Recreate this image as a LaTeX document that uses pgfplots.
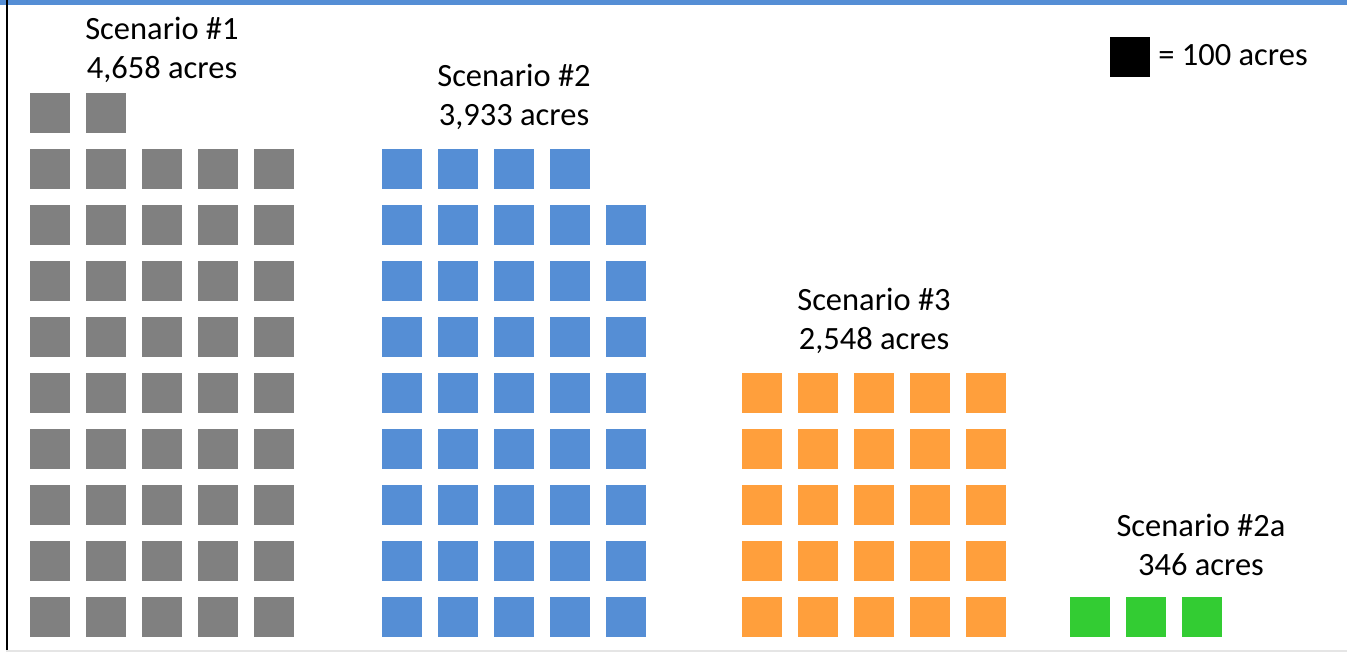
\documentclass[border=0pt]{standalone}
\usepackage{pgfplots}
\pgfplotsset{compat=1.18}
\usepackage{fontspec}
\setmainfont{Carlito}

\definecolor{scgray}{HTML}{808080}
\definecolor{scblue}{HTML}{558ED5}
\definecolor{scorange}{HTML}{FF9F3C}
\definecolor{scgreen}{HTML}{33CC33}
\definecolor{frameblue}{HTML}{558ED5}

\begin{document}
\begin{tikzpicture}
\begin{axis}[
    width=673.5bp, height=326bp,
    scale only axis,
    xmin=0, xmax=1347,
    ymin=0, ymax=652,
    y dir=reverse,
    hide axis,
    clip=false,
    tile/.style={only marks, mark=square*, mark size=9.8bp, color=#1, mark options={solid, line width=0.4pt}},
]
% one square = 100 acres, centres in pixel units
% Scenario #1
\addplot[tile=scgray] coordinates {
    (50,113) (106,113)
    (50,169) (106,169) (162,169) (218,169) (274,169)
    (50,225) (106,225) (162,225) (218,225) (274,225)
    (50,281) (106,281) (162,281) (218,281) (274,281)
    (50,337) (106,337) (162,337) (218,337) (274,337)
    (50,393) (106,393) (162,393) (218,393) (274,393)
    (50,449) (106,449) (162,449) (218,449) (274,449)
    (50,505) (106,505) (162,505) (218,505) (274,505)
    (50,561) (106,561) (162,561) (218,561) (274,561)
    (50,617) (106,617) (162,617) (218,617) (274,617)
};
% Scenario #2
\addplot[tile=scblue] coordinates {
    (402,169) (458,169) (514,169) (570,169)
    (402,225) (458,225) (514,225) (570,225) (626,225)
    (402,281) (458,281) (514,281) (570,281) (626,281)
    (402,337) (458,337) (514,337) (570,337) (626,337)
    (402,393) (458,393) (514,393) (570,393) (626,393)
    (402,449) (458,449) (514,449) (570,449) (626,449)
    (402,505) (458,505) (514,505) (570,505) (626,505)
    (402,561) (458,561) (514,561) (570,561) (626,561)
    (402,617) (458,617) (514,617) (570,617) (626,617)
};
% Scenario #3
\addplot[tile=scorange] coordinates {
    (762,393) (818,393) (874,393) (930,393) (986,393)
    (762,449) (818,449) (874,449) (930,449) (986,449)
    (762,505) (818,505) (874,505) (930,505) (986,505)
    (762,561) (818,561) (874,561) (930,561) (986,561)
    (762,617) (818,617) (874,617) (930,617) (986,617)
};
% Scenario #2a
\addplot[tile=scgreen] coordinates {
    (1090,617) (1146,617) (1202,617)
};
% key
\addplot[tile=black] coordinates {(1130,57)};

\begin{scope}[every node/.style={align=center, font=\fontsize{16.3}{19.5}\selectfont, inner sep=0pt}]
\node at (axis cs:162,50) {Scenario \#1\\4,658 acres};
\node at (axis cs:514,97) {Scenario \#2\\3,933 acres};
\node at (axis cs:874,321) {Scenario \#3\\2,548 acres};
\node at (axis cs:1201,545) {Scenario \#2a\\346 acres};
\node[anchor=west] at (axis cs:1158,55) {= 100 acres};
\end{scope}

% frame
\fill[frameblue] (axis cs:0,0) rectangle (axis cs:1347,5);
\fill[black] (axis cs:6,0) rectangle (axis cs:8,652);
\fill[black!10] (axis cs:6,650) rectangle (axis cs:1347,652);
\path (axis cs:0,0) rectangle (axis cs:1347,652);
\end{axis}
\end{tikzpicture}
\end{document}
